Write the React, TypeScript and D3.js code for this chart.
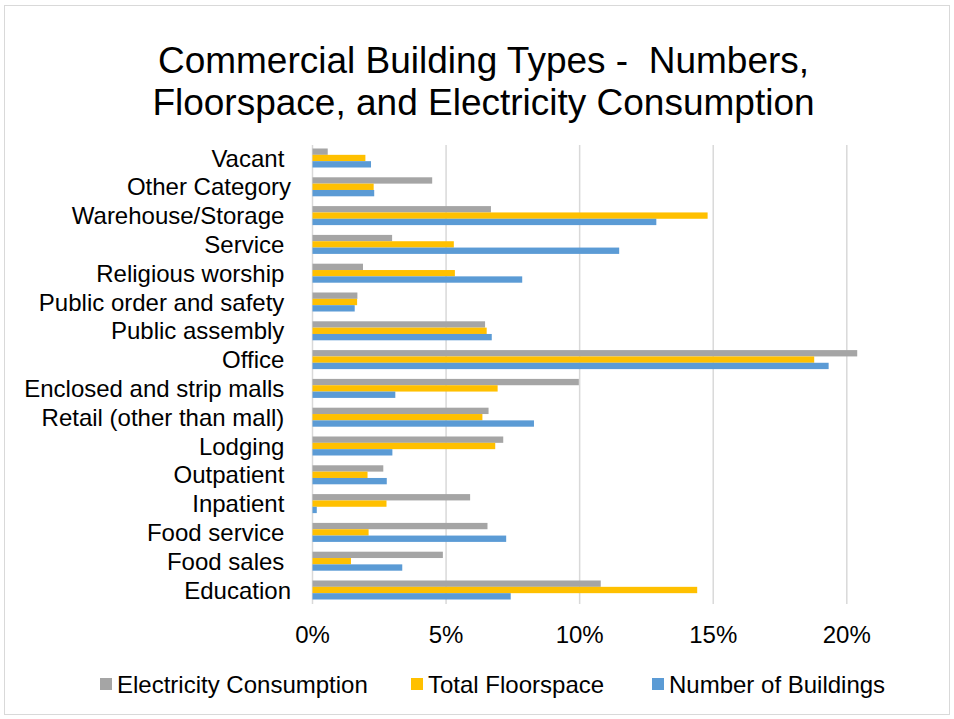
import React from "react";
import * as d3 from "d3";

const categories = [
  "Vacant ",
  "Other Category",
  "Warehouse/Storage ",
  "Service ",
  "Religious worship ",
  "Public order and safety ",
  "Public assembly ",
  "Office ",
  "Enclosed and strip malls ",
  "Retail (other than mall) ",
  "Lodging ",
  "Outpatient ",
  "Inpatient ",
  "Food service ",
  "Food sales ",
  "Education",
];

const electricity = [0.57, 4.48, 6.68, 2.98, 1.89, 1.68, 6.46, 20.39, 9.97, 6.59, 7.14, 2.65, 5.9, 6.55, 4.88, 10.79];
const floorspace = [1.98, 2.29, 14.79, 5.29, 5.33, 1.67, 6.52, 18.78, 6.93, 6.36, 6.84, 2.06, 2.77, 2.1, 1.44, 14.4];
const buildings = [2.19, 2.31, 12.87, 11.48, 7.85, 1.58, 6.71, 19.32, 3.1, 8.29, 2.99, 2.78, 0.16, 7.25, 3.36, 7.42];

const seriesNames = ["Electricity Consumption", "Total Floorspace", "Number of Buildings"];
const seriesColors = ["#A5A5A5", "#FFC000", "#5B9BD5"];
const xTicks = [0, 5, 10, 15, 20];
const titleLines = ["Commercial Building Types -  Numbers,", "Floorspace, and Electricity Consumption"];

export default function App() {
  const W = 954;
  const H = 719;
  const font = "'Liberation Sans', Arial, sans-serif";
  const x = d3.scaleLinear().domain([0, 20]).range([312.5, 846.8]);
  const y = d3.scaleBand<string>().domain(categories).range([143.6, 604.4]).paddingInner(0.34).paddingOuter(0.17);
  const sub = d3.scaleBand<number>().domain([0, 1, 2]).range([0, y.bandwidth()]);
  const series = [electricity, floorspace, buildings];
  const legendX = [100, 411, 652];

  return (
    <svg width={W} height={H} style={{ position: "absolute", left: 0, top: 0, background: "#fff" }} fontFamily={font}>
      <rect x={4.5} y={5.5} width={945} height={709} fill="#fff" stroke="#D9D9D9" strokeWidth={1} />
      {titleLines.map((t, i) => (
        <text key={i} x={483.5} y={73 + i * 42} textAnchor="middle" fontSize={37} fill="#000" style={{ whiteSpace: "pre" }}>
          {t}
        </text>
      ))}
      {xTicks.map((t) => (
        <g key={t}>
          <line x1={x(t)} x2={x(t)} y1={145} y2={604} stroke="#D9D9D9" strokeWidth={1.5} />
          <text x={x(t)} y={643} textAnchor="middle" fontSize={24} fill="#000">
            {t + "%"}
          </text>
        </g>
      ))}
      {categories.map((c, ci) => (
        <g key={c}>
          {series.map((s, si) => (
            <rect
              key={si}
              x={x(0)}
              y={(y(c) as number) + (sub(si) as number)}
              width={x(s[ci]) - x(0)}
              height={sub.bandwidth()}
              fill={seriesColors[si]}
            />
          ))}
          <text
            x={291}
            y={(y(c) as number) + y.bandwidth() / 2 + 8.5}
            textAnchor="end"
            fontSize={24}
            fill="#000"
            style={{ whiteSpace: "pre" }}
          >
            {c}
          </text>
        </g>
      ))}
      {seriesNames.map((n, i) => (
        <g key={n}>
          <rect x={legendX[i]} y={678} width={12} height={12} fill={seriesColors[i]} />
          <text x={legendX[i] + 17} y={692.5} fontSize={24} fill="#000">
            {n}
          </text>
        </g>
      ))}
    </svg>
  );
}
